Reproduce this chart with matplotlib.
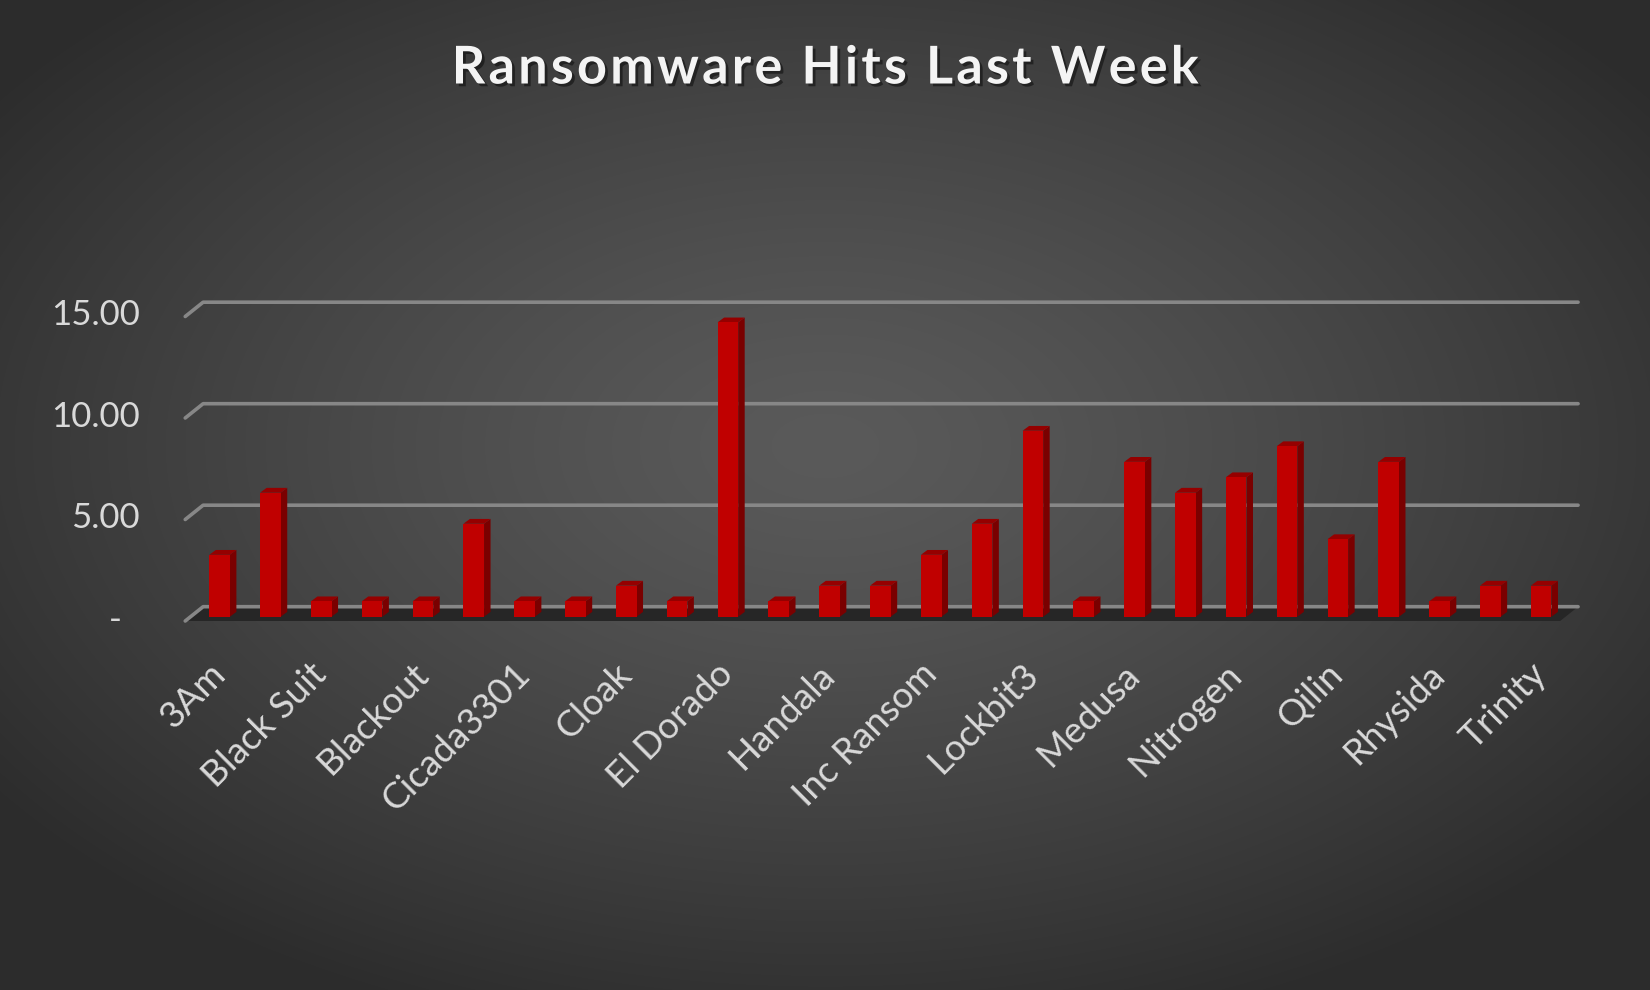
import numpy as np
import matplotlib
matplotlib.use("Agg")
import matplotlib.pyplot as plt
import matplotlib.patheffects as pe
from matplotlib.patches import Polygon
from matplotlib.lines import Line2D
from matplotlib.transforms import IdentityTransform

plt.rcParams['font.family'] = ['Lato', 'DejaVu Sans']

# share of last week's hits (%) per group
groups = ["3Am", "Akira", "Black Suit", "BlackByte", "Blackout", "Brain Cipher",
          "Cicada3301", "CiphBit", "Cloak", "Dragonforce", "El Dorado", "Fog",
          "Handala", "Hunters", "Inc Ransom", "KillSec", "Lockbit3", "Lynx",
          "Medusa", "Meow", "Nitrogen", "Play", "Qilin", "RansomHub",
          "Rhysida", "SafePay", "Trinity"]
hits = [3.05, 6.11, 0.76, 0.76, 0.76, 4.58, 0.76, 0.76, 1.53, 0.76, 14.50, 0.76,
        1.53, 1.53, 3.05, 4.58, 9.16, 0.76, 7.63, 6.11, 6.87, 8.40, 3.82, 7.63,
        0.76, 1.53, 1.53]
yticks = [0, 5, 10, 15]
ylabels = ["-  ", "5.00", "10.00", "15.00"]
title = "Ransomware Hits Last Week"

W, H, DPI = 1650, 990, 100
fig = plt.figure(figsize=(W / DPI, H / DPI), dpi=DPI)

# radial grey background
bg = fig.add_axes([0, 0, 1, 1], zorder=-10)
yy, xx = np.mgrid[0:H, 0:W]
r = np.sqrt(((xx - 0.5 * W) / (0.62 * W)) ** 2 + ((yy - 0.45 * H) / (0.62 * H)) ** 2)
r = np.clip(r, 0, 1)
c0, c1 = 0x5a / 255, 0x2c / 255
img = c0 + (c1 - c0) * r ** 1.3
bg.imshow(np.dstack([img, img, img]), aspect='auto', extent=[0, 1, 0, 1])
bg.axis('off')

# plot area in pixels (from top-left), bar plane calibration
L, R, T, B = 160, 1600, 280, 660
x0px, step = 219.6, 50.83
zero_px, unit = 616.7, 20.3
ax = fig.add_axes([L / W, 1 - B / H, (R - L) / W, (B - T) / H])
ax.set_xlim((L - x0px) / step, (R - x0px) / step)
ax.set_ylim((zero_px - B) / unit, (zero_px - T) / unit)
ax.patch.set_alpha(0)
for s in ax.spines.values():
    s.set_visible(False)

x = np.arange(len(groups))
bw = 0.405
ax.bar(x, hits, width=bw, color='#c00000', zorder=4)

ident = IdentityTransform()


def px(xv, yv, off=(0, 0)):
    p = ax.transData.transform((xv, yv))
    return (p[0] + off[0], p[1] + off[1])


deep = (6.5, 4.8)      # bar depth
back = (12.5, 10.0)    # back wall
front = (-5.4, -4.3)   # front edge of floor
xl, xr = -0.57, 26.48

# floor
floor = [px(xl, 0, front), px(xr, 0, front), px(xr, 0, back), px(xl, 0, back)]
ax.add_patch(Polygon(floor, closed=True, facecolor='#262626', edgecolor='none',
                     transform=ident, clip_on=False, zorder=1))

# gridlines on the back wall
for v in yticks:
    a, b, c = px(xl, v, front), px(xl, v, back), px(xr, v, back)
    ax.add_line(Line2D([a[0], b[0], c[0]], [a[1], b[1], c[1]], color='#878787', lw=2.6,
                       solid_capstyle='round', solid_joinstyle='round',
                       transform=ident, clip_on=False, zorder=2))

# bar sides and tops
for xi, h in zip(x, hits):
    x1, x2 = xi - bw / 2, xi + bw / 2
    side = [px(x2, 0), px(x2, h), px(x2, h, deep), px(x2, 0, deep)]
    top = [px(x1, h), px(x2, h), px(x2, h, deep), px(x1, h, deep)]
    ax.add_patch(Polygon(side, closed=True, facecolor='#7a0000', edgecolor='none',
                         transform=ident, clip_on=False, zorder=3))
    ax.add_patch(Polygon(top, closed=True, facecolor='#950000', edgecolor='none',
                         transform=ident, clip_on=False, zorder=3))

ax.set_yticks(yticks)
ax.set_yticklabels(ylabels)
ax.set_xticks(x[::2])
ax.set_xticklabels(groups[::2], rotation=45, ha='right', va='center',
                   rotation_mode='anchor')
ax.tick_params(axis='y', length=0, pad=20 * 72 / DPI, labelsize=25, labelcolor='#d9d9d9')
ax.tick_params(axis='x', length=0, pad=9 * 72 / DPI, labelsize=26.5, labelcolor='#d9d9d9')

# spaced-out title (hair spaces between letters)
spaced = "\u200a".join(title)
fig.text(0.5, 1 - 69 / H, spaced, ha='center', va='center', fontsize=37.5,
         fontweight='bold', color='#f4f4f4',
         path_effects=[pe.SimplePatchShadow(offset=(2, -2), shadow_rgbFace='black', alpha=0.45),
                       pe.Normal()])

fig.savefig("out.png", dpi=DPI)
